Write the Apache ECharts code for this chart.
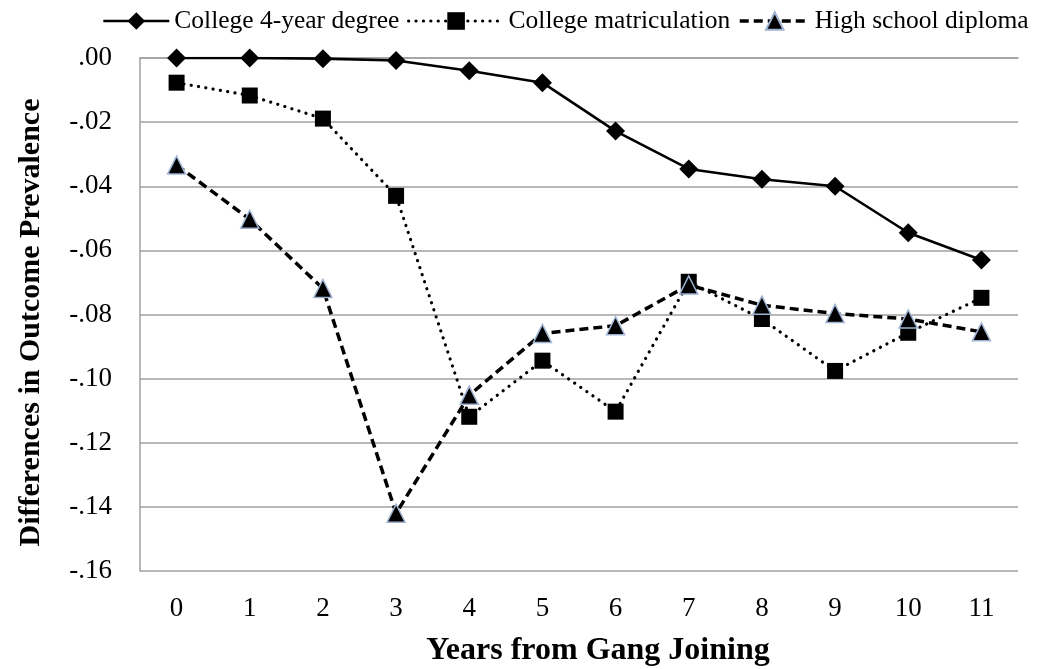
<!DOCTYPE html>
<html>
<head>
<meta charset="utf-8">
<script src="https://cdn.jsdelivr.net/npm/echarts@6/dist/echarts.min.js"></script>
<style>
html,body{margin:0;padding:0;background:#fff;}
#chart{width:1039px;height:669px;}
</style>
</head>
<body>
<div id="chart"></div>
<script>
var categories = ['0','1','2','3','4','5','6','7','8','9','10','11'];
var college4yr = [0.0000, 0.0000, -0.0002, -0.0008, -0.0040, -0.0077, -0.0228, -0.0346, -0.0378, -0.0400, -0.0545, -0.0630];
var collegeMatric = [-0.0077, -0.0117, -0.0189, -0.0430, -0.1119, -0.0944, -0.1103, -0.0698, -0.0814, -0.0976, -0.0857, -0.0748];
var highSchool = [-0.0334, -0.0503, -0.0719, -0.1420, -0.1052, -0.0859, -0.0835, -0.0708, -0.0771, -0.0797, -0.0814, -0.0854];
var seriesNames = ['College 4-year degree', 'College matriculation', 'High school diploma'];

var serif = '"Liberation Serif", "Times New Roman", serif';
function fmt(v){
  var s = Math.abs(v).toFixed(2).replace(/^0/, '');
  return (v < -1e-9 ? '-' : '') + s;
}

var lineStyles = [
  {color: '#000', width: 2.6, type: 'solid'},
  {color: '#000', width: 3.2, type: [0.1, 7.3], cap: 'round'},
  {color: '#000', width: 3.5, type: [9, 5]}
];

function makeLegend(i, left, w){
  return {
    top: 3,
    left: left,
    itemWidth: w,
    itemHeight: 22,
    itemGap: 0,
    textStyle: {fontFamily: serif, fontSize: 25.5, color: '#000'},
    lineStyle: lineStyles[i],
    data: [seriesNames[i]]
  };
}

var chart = echarts.init(document.getElementById('chart'));
chart.setOption({
  animation: false,
  backgroundColor: '#ffffff',
  legend: [
    makeLegend(0, 97, 66),
    makeLegend(1, 402, 95),
    makeLegend(2, 733, 70)
  ],
  grid: {left: 140, right: 21, top: 58, bottom: 98, containLabel: false, outerBoundsMode: 'none'},
  xAxis: {
    type: 'category',
    data: categories,
    boundaryGap: true,
    name: 'Years from Gang Joining',
    nameLocation: 'middle',
    nameGap: 64,
    nameTextStyle: {fontFamily: serif, fontSize: 32, fontWeight: 'bold', color: '#000', padding: [0, 0, 0, 38]},
    axisLine: {show: true, lineStyle: {color: '#a0a0a0', width: 1.5}},
    axisTick: {show: false},
    axisLabel: {fontFamily: serif, fontSize: 27, color: '#000', margin: 24}
  },
  yAxis: {
    type: 'value',
    min: -0.16,
    max: 0,
    interval: 0.02,
    name: 'Differences in Outcome Prevalence',
    nameLocation: 'middle',
    nameGap: 94,
    nameTextStyle: {fontFamily: serif, fontSize: 30, fontWeight: 'bold', color: '#000', padding: [0, 16, 0, 0]},
    axisLine: {show: true, lineStyle: {color: '#a0a0a0', width: 1.5}},
    axisTick: {show: false},
    splitLine: {show: true, lineStyle: {color: '#a0a0a0', width: 1.5}},
    axisLabel: {fontFamily: serif, fontSize: 27, color: '#000', margin: 28, formatter: fmt}
  },
  series: [
    {
      name: seriesNames[0], type: 'line', data: college4yr,
      symbol: 'diamond', symbolSize: [19, 19],
      lineStyle: lineStyles[0],
      itemStyle: {color: '#000'}
    },
    {
      name: seriesNames[1], type: 'line', data: collegeMatric,
      symbol: 'rect', symbolSize: 16,
      lineStyle: lineStyles[1],
      itemStyle: {color: '#000'}
    },
    {
      name: seriesNames[2], type: 'line', data: highSchool,
      symbol: 'triangle', symbolSize: 18,
      lineStyle: lineStyles[2],
      itemStyle: {color: '#000', borderColor: '#9fb3d3', borderWidth: 1.5}
    }
  ]
});
</script>
</body>
</html>
